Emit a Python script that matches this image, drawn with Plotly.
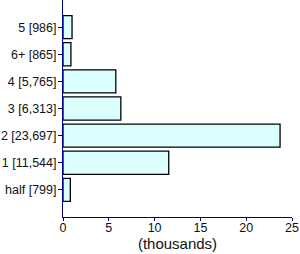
import plotly.graph_objects as go

categories = ["half", "1", "2", "3", "4", "6+", "5"]
counts = [799, 11544, 23697, 6313, 5765, 865, 986]
x_ticks = [0, 5, 10, 15, 20, 25]

labels = [f"{c} [{v:,}]" for c, v in zip(categories, counts)]
values = [v / 1000 for v in counts]
pos = list(range(len(categories)))

fig = go.Figure(go.Bar(
    x=values, y=pos, orientation="h",
    marker=dict(color="#DBFFFF", line=dict(color="black", width=1.3)),
    width=0.85,
))
fig.update_layout(
    width=300, height=254,
    margin=dict(l=63, r=8, t=0, b=37),
    paper_bgcolor="white", plot_bgcolor="white",
    font=dict(family="Liberation Sans, Arial, sans-serif", size=12.5, color="#111111"),
    showlegend=False,
)
fig.update_xaxes(
    range=[0, 25], tickvals=x_ticks, showgrid=False, zeroline=False,
    showline=True, linecolor="#000080", linewidth=1,
    ticks="outside", tickcolor="#000080", ticklen=3,
    ticklabelstandoff=-4,
    title=dict(text="(thousands)", standoff=1),
)
fig.update_yaxes(
    range=[-1, 7], tickvals=pos, ticktext=labels, showgrid=False, zeroline=False,
    showline=True, linecolor="#000080", linewidth=1,
    ticks="outside", tickcolor="#000080", ticklen=4,
    ticklabelstandoff=-1,
)
fig.write_html("out.html")
